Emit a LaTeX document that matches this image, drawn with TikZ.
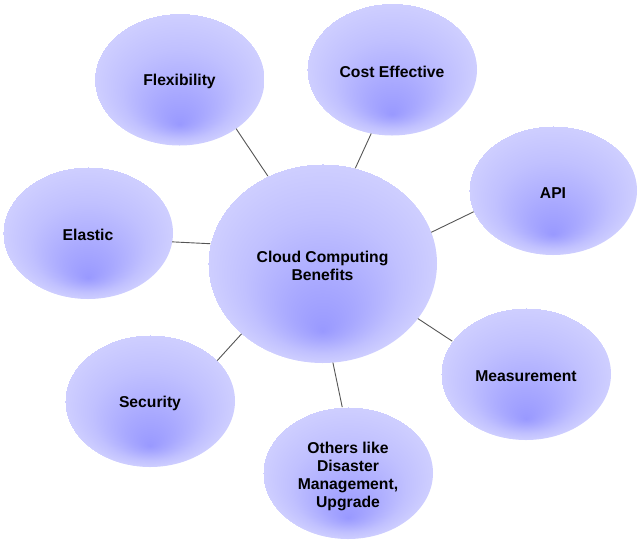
\documentclass[tikz,border=0pt]{standalone}
\usepackage{fontspec}
\setmainfont{Liberation Sans}
\usetikzlibrary{shapes.geometric}
\pgfdeclareradialshading{bubble}{\pgfpoint{0bp}{-17bp}}{rgb(0bp)=(0.6,0.6,1); rgb(7bp)=(0.66,0.66,1); rgb(17bp)=(0.755,0.755,1); rgb(25bp)=(0.81,0.81,1)}
\begin{document}
\begin{tikzpicture}[x=1pt,y=-1pt,
  bubblenode/.style={ellipse, shading=bubble, draw=none, inner sep=0pt, outer sep=0pt,
    minimum width=170pt, minimum height=132pt, align=center,
    font=\fontsize{15.7}{18}\selectfont\bfseries, text=black,
    execute at begin node={\rule{0pt}{15.5pt}}},
  multinode/.style={bubblenode, execute at begin node={}},
  link/.style={draw={rgb,255:red,85;green,85;blue,85}, line width=0.9pt}]
\useasboundingbox (0,0) rectangle (640,542);
\node[multinode, minimum width=229pt, minimum height=199pt] (main) at (322.5,263.5) {\rule{0pt}{15.5pt}Cloud Computing\\Benefits};
\node[bubblenode] (flex) at (179.5,79.5) {Flexibility};
\node[bubblenode] (cost) at (392,69.5) {Cost Effective};
\node[bubblenode, minimum width=168pt, minimum height=129pt] (api) at (553,190.5) {API};
\node[bubblenode] (elastic) at (88,233) {Elastic};
\node[bubblenode] (meas) at (526,374) {Measurement};
\node[bubblenode] (sec) at (150,401) {Security};
\node[multinode] (others) at (348,473) {\rule{0pt}{17.5pt}Others like\\Disaster\\Management,\\Upgrade};
\draw[link] (flex.-41.4) -- (main.122.8);
\draw[link] (cost.-108.7) -- (main.71.2);
\draw[link] (api.195) -- (main.16.6);
\draw[link] (elastic.-6.5) -- (main.170.8);
\draw[link] (sec.31.2) -- (main.221.5);
\draw[link] (meas.156.3) -- (main.-30.2);
\draw[link] (others.95.8) -- (main.-84.8);
\end{tikzpicture}
\end{document}
